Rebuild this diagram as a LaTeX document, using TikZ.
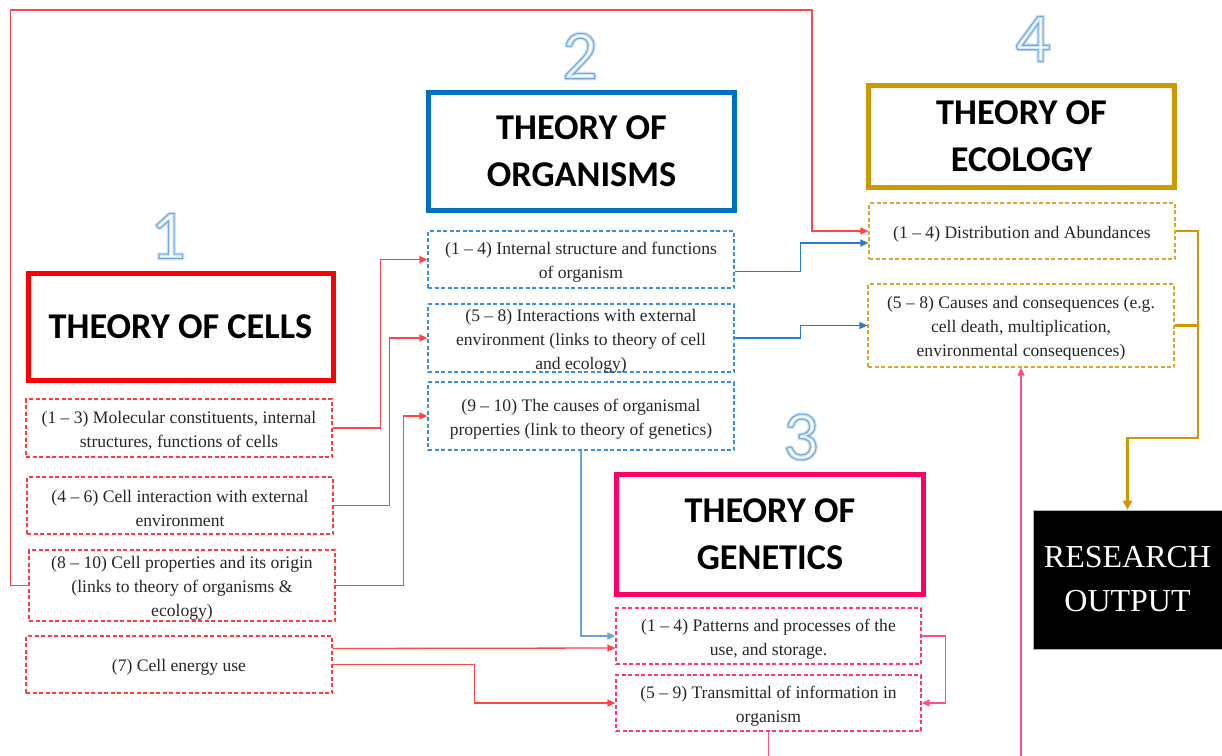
\documentclass[tikz,border=0pt]{standalone}
\usepackage{fontspec}
\setmainfont{Liberation Serif}
\newfontfamily\calibri{Carlito}
\usetikzlibrary{arrows.meta,calc}
\definecolor{tred}{HTML}{FF0000}
\definecolor{redline}{HTML}{FF4545}
\definecolor{reddash}{HTML}{FF3B3B}
\definecolor{tblue}{HTML}{0070C0}
\definecolor{bluedash}{HTML}{3A8FDA}
\definecolor{blueline}{HTML}{2A7CC7}
\definecolor{lblueline}{HTML}{6AA3DB}
\definecolor{tgold}{HTML}{CC9900}
\definecolor{golddash}{HTML}{D9A72A}
\definecolor{tpink}{HTML}{FF0066}
\definecolor{pinkdash}{HTML}{FF3385}
\definecolor{pinkline}{HTML}{FF4D94}
\definecolor{txt}{HTML}{262626}
\definecolor{glow}{HTML}{D3E5F6}
\definecolor{digitblue}{HTML}{6FA8DC}
\newcommand{\hollowtext}[2]{\special{pdf:literal direct 1 Tr #1 w}#2\special{pdf:literal direct 0 Tr}}
\begin{document}
\begin{tikzpicture}[x=1pt,y=-1pt,
  titlebox/.style={draw, line width=5pt, fill=white, inner sep=0pt, text=black,
    font=\calibri\bfseries\fontsize{36.3}{47}\selectfont, align=center},
  itembox/.style={draw, dash pattern=on 4pt off 2.5pt, line width=1.2pt, inner sep=0pt,
    minimum width=306pt},
  itemtext/.style={inner sep=0pt, text=txt, font=\fontsize{17.6}{24}\selectfont, align=center, yshift=-3pt},
  link/.style={line width=1.3pt, -{Triangle[length=8pt,width=7pt]}},
  digitglow/.style={inner sep=0pt, text=glow, font=\calibri\fontsize{70}{70}\selectfont},
  digit/.style={inner sep=0pt, text=digitblue, font=\calibri\fontsize{70}{70}\selectfont}]
\useasboundingbox (0,0) rectangle (1222,755);
\clip (0,0) rectangle (1222,755);

% numbers
\foreach \n/\px/\py in {1/168/236, 2/580/56, 3/801/437, 4/1033/39}{
  \node[digitglow] at (\px,\py) {\hollowtext{3.5}{\n}};
  \node[digit] (num\n) at (\px,\py) {\hollowtext{1.1}{\n}};
}

% title boxes
\node[titlebox, draw=tred, minimum width=305pt, minimum height=107pt] (cells) at (180.5,326.5) {THEORY OF CELLS};
\node[titlebox, draw=tblue, minimum width=306pt, minimum height=118pt] (org) at (581.5,151.5) {THEORY OF\\ORGANISMS};
\node[titlebox, draw=tgold, minimum width=306pt, minimum height=102pt] (eco) at (1021.5,136.5) {THEORY OF\\ECOLOGY};
\node[titlebox, draw=tpink, minimum width=307pt, minimum height=120pt] (gen) at (770,534.5) {THEORY OF\\GENETICS};

% cell items
\node[itembox, draw=reddash, minimum height=58pt, label={[itemtext]center:{(1 – 3) Molecular constituents, internal\\structures, functions of cells}}] (c1) at (179,428) {};
\node[itembox, draw=reddash, minimum height=57pt, label={[itemtext]center:{(4 – 6) Cell interaction with external\\environment}}] (c2) at (180,505.5) {};
\node[itembox, draw=reddash, minimum height=71pt, label={[itemtext]center:{(8 – 10) Cell properties and its origin\\(links to theory of organisms \&\\ecology)}}] (c3) at (182,585.5) {};
\node[itembox, draw=reddash, minimum height=57pt, label={[itemtext]center:{(7) Cell energy use}}] (c4) at (179,664.5) {};

% organism items
\node[itembox, draw=bluedash, minimum height=57pt, label={[itemtext]center:{(1 – 4) Internal structure and functions\\of organism}}] (o1) at (581,259.5) {};
\node[itembox, draw=bluedash, minimum height=68pt, label={[itemtext]center:{(5 – 8) Interactions with external\\environment (links to theory of cell\\and ecology)}}] (o2) at (581,338) {};
\node[itembox, draw=bluedash, minimum height=68pt, label={[itemtext]center:{(9 – 10) The causes of organismal\\properties (link to theory of genetics)}}] (o3) at (581,416) {};

% ecology items
\node[itembox, draw=golddash, minimum height=56pt, label={[itemtext]center:{(1 – 4) Distribution and Abundances}}] (e1) at (1022,231) {};
\node[itembox, draw=golddash, minimum height=83pt, label={[itemtext]center:{(5 – 8) Causes and consequences (e.g.\\cell death, multiplication,\\environmental consequences)}}] (e2) at (1021,325.5) {};

% genetics items
\node[itembox, draw=pinkdash, minimum width=305pt, minimum height=56pt, label={[itemtext]center:{(1 – 4) Patterns and processes of the\\use, and storage.}}] (g1) at (768.5,636) {};
\node[itembox, draw=pinkdash, minimum width=305pt, minimum height=56pt, label={[itemtext]center:{(5 – 9) Transmittal of information in\\organism}}] (g2) at (768.5,703) {};

% research output
\node[draw=gray!60, line width=0.6pt, fill=black, text=white, inner sep=0pt, minimum width=189pt, minimum height=139pt,
  align=center, font=\fontsize{32}{44}\selectfont] (ro) at (1127.5,579.5) {RESEARCH\\OUTPUT};

% red connectors
\draw[link, redline] (c1.east) -- ++(48,0) |- (o1.west);
\draw[link, redline] (c2.east) -- ++(56,0) |- (o2.west);
\draw[link, redline] (c3.east) -- ++(68,0) |- (o3.west);
\draw[link, redline] (c3.west) -- ++(-18,0) |- (812,10) |- (e1.west);
\draw[link, redline] ([yshift=16pt]c4.east) -- ([yshift=-12pt]g1.west);
\draw[link, redline] (c4.east) -- ++(142,0) |- (g2.west);

% blue connectors
\draw[link, blueline] ([yshift=-12pt]o1.east) -- ++(66,0) |- ([yshift=-12pt]e1.west);
\draw[link, blueline] (o2.east) -- ++(66,0) |- (e2.west);
\draw[link, lblueline] (o3.south) |- (g1.west);

% pink connectors
\draw[link, pinkline] (g1.east) -- ++(24,0) |- (g2.east);
\draw[link, pinkline] (g2.south) -- ++(0,40) -| (e2.south);

% gold connectors
\coordinate (gjoin) at (1198,438);
\draw[line width=2.6pt, tgold, -{Triangle[length=9pt,width=9pt]}] (e1.east) -| (gjoin) -| (ro.north);
\draw[line width=2.6pt, tgold] (e2.east) -- (e2.east -| gjoin);
\end{tikzpicture}
\end{document}
